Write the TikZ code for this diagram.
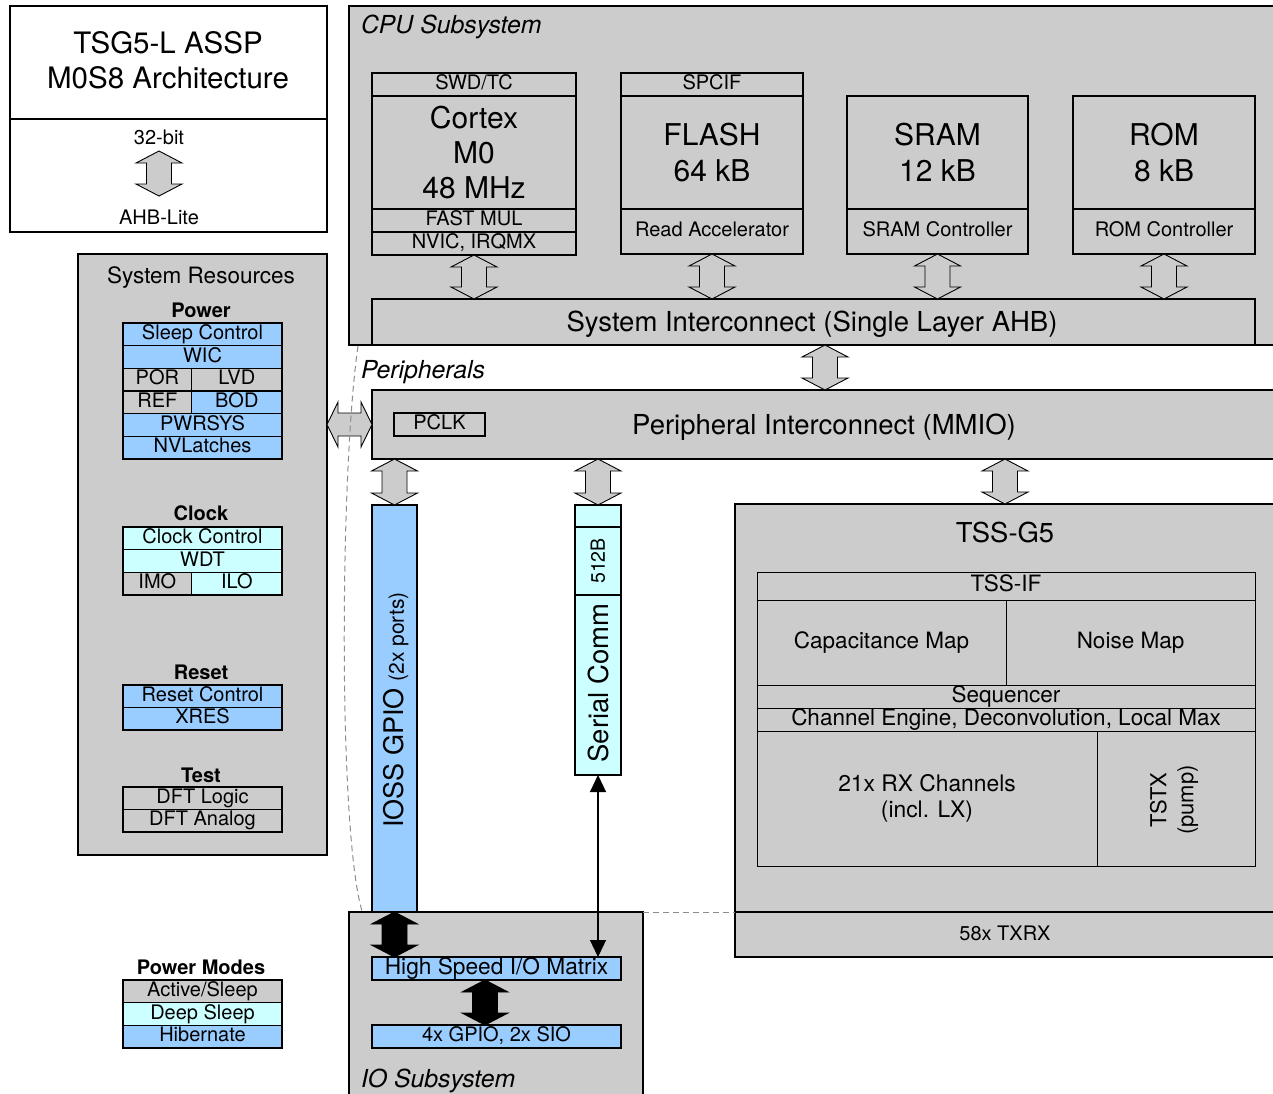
\documentclass[tikz,border=0pt]{standalone}
\usepackage{fontspec}
\setmainfont{TeX Gyre Heros}
\usetikzlibrary{calc,arrows.meta}
\definecolor{gr}{HTML}{CCCCCC}
\definecolor{bl}{HTML}{99CCFF}
\definecolor{cy}{HTML}{CCFFFF}
\newcommand\fs[2]{\fontsize{#1}{#2}\selectfont}
\newcommand\vbarrow[3]{%
 \path[draw=black,fill=#3,line width=0.9pt] let \p1=(#1), \p2=(#2) in
 (\x1,\y1) -- (\x1+23pt,\y1-12pt) -- (\x1+12.5pt,\y1-12pt) -- (\x1+12.5pt,\y2+12pt) -- (\x1+23pt,\y2+12pt) -- (\x1,\y2) -- (\x1-23pt,\y2+12pt) -- (\x1-12.5pt,\y2+12pt) -- (\x1-12.5pt,\y1-12pt) -- (\x1-23pt,\y1-12pt) -- cycle;}
\newcommand\hbarrow[3]{%
 \path[draw=black,fill=#3,line width=0.9pt] let \p1=(#1), \p2=(#2) in
 (\x1,\y1) -- (\x1+11pt,\y1+22.5pt) -- (\x1+11pt,\y1+11.5pt) -- (\x2-11pt,\y1+11.5pt) -- (\x2-11pt,\y1+22.5pt) -- (\x2,\y1) -- (\x2-11pt,\y1-22.5pt) -- (\x2-11pt,\y1-11.5pt) -- (\x1+11pt,\y1-11.5pt) -- (\x1+11pt,\y1-22.5pt) -- cycle;}
\begin{document}
\begin{tikzpicture}[x=1pt,y=-1pt,
 every node/.style={inner sep=0pt,outer sep=0pt},
 cbox/.style={draw,line width=1.8pt,fill=gr,anchor=north west,align=center},
 row/.style={draw,line width=1.2pt,anchor=north west,font=\fs{20}{24},text height=14.4pt,text depth=4pt},
 srow/.style={row,minimum width=159,minimum height=22.67},
 lrow/.style={row,minimum width=68.7,minimum height=22.67},
 rrow/.style={row,minimum width=90.3,minimum height=22.67},
 crow/.style={row,fill=gr,line width=1.8pt},
 trow/.style={row,fill=gr,line width=1pt,font=\fs{22.5}{27},text height=16.2pt,text depth=4.7pt},
 hdr/.style={font=\fs{20}{24}\bfseries},
 ital/.style={font=\fs{24.8}{28}\itshape,anchor=base west},
 dashln/.style={draw=black!45,line width=1pt,dash pattern=on 6pt off 4pt},
]
\useasboundingbox (0,0) rectangle (1273,1093);
\clip (0,0) rectangle (1273,1093);

% ---------- title box
\node[cbox,fill=white,minimum width=317,minimum height=113] (title) at (10,6) {};
\node[align=center,font=\fs{29.5}{35}] (titlelbl) at (168,60) {TSG5-L ASSP\\M0S8 Architecture};
\node[cbox,fill=white,minimum width=317,minimum height=113] (titlebot) at (10,119) {};
\node[font=\fs{20}{24}] (bit32) at (159,137) {32-bit};
\node[font=\fs{20}{24}] (ahblite) at (159,217) {AHB-Lite};
\coordinate (ta1) at (159,151);
\coordinate (ta2) at (159,196);
\vbarrow{ta1}{ta2}{gr}

% ---------- system resources
\node[cbox,minimum width=249,minimum height=601] (sysres) at (78,254) {};
\node[font=\fs{22.5}{27}] (srlbl) at (201,278) {System Resources};
\node[hdr] (powerh) at (201,310) {Power};
\node[srow,fill=bl] (sleep) at (123,323) {Sleep Control};
\node[srow,fill=bl] (wic) at (123,345.67) {WIC};
\node[lrow,fill=gr] (por) at (123,368.33) {POR};
\node[rrow,fill=gr] (lvd) at (191.7,368.33) {LVD};
\node[lrow,fill=gr] (ref) at (123,391) {REF};
\node[rrow,fill=bl] (bod) at (191.7,391) {BOD};
\node[srow,fill=bl] (pwrsys) at (123,413.67) {PWRSYS};
\node[srow,fill=bl] (nvl) at (123,436.33) {NVLatches};

\node[hdr] (clockh) at (201,513) {Clock};
\node[srow,fill=cy] (clkctl) at (123,527) {Clock Control};
\node[srow,fill=cy] (wdt) at (123,549.67) {WDT};
\node[lrow,fill=gr] (imo) at (123,572.33) {IMO};
\node[rrow,fill=cy] (ilo) at (191.7,572.33) {ILO};

\node[hdr] (reseth) at (201,672) {Reset};
\node[srow,fill=bl,minimum height=22.5] (rstctl) at (123,685) {Reset Control};
\node[srow,fill=bl,minimum height=22.5] (xres) at (123,707.5) {XRES};

\node[hdr] (testh) at (201,775) {Test};
\node[srow,fill=gr,minimum height=22.5] (dftl) at (123,787) {DFT Logic};
\node[srow,fill=gr,minimum height=22.5] (dfta) at (123,809.5) {DFT Analog};

% ---------- power modes legend
\node[hdr] (pmh) at (201,967) {Power Modes};
\node[srow,fill=gr] (pmact) at (123,980) {Active/Sleep};
\node[srow,fill=cy] (pmdeep) at (123,1002.67) {Deep Sleep};
\node[srow,fill=bl] (pmhib) at (123,1025.33) {Hibernate};

% ---------- CPU subsystem
\node[cbox,minimum width=960,minimum height=339] (cpu) at (349,6) {};
\node[ital] (cpulbl) at (361,33) {CPU Subsystem};

\node[crow,minimum width=204,minimum height=23] (swd) at (372,73) {SWD/TC};
\node[cbox,minimum width=204,minimum height=113,font=\fs{30}{35}] (cortex) at (372,96) {Cortex\\M0\\48 MHz};
\node[crow,minimum width=204,minimum height=23] (fastmul) at (372,209) {FAST MUL};
\node[crow,minimum width=204,minimum height=23] (nvic) at (372,232) {NVIC, IRQMX};

\node[crow,minimum width=182,minimum height=23] (spcif) at (621,73) {SPCIF};
\node[cbox,minimum width=182,minimum height=113,font=\fs{30}{36}] (flash) at (621,96) {FLASH\\64 kB};
\node[crow,minimum width=182,minimum height=45] (racc) at (621,209) {Read Accelerator};

\node[cbox,minimum width=181,minimum height=113,font=\fs{30}{36}] (sram) at (847,96) {SRAM\\12 kB};
\node[crow,minimum width=181,minimum height=45] (sramctl) at (847,209) {SRAM Controller};

\node[cbox,minimum width=182,minimum height=113,font=\fs{30}{36}] (rom) at (1073,96) {ROM\\8 kB};
\node[crow,minimum width=182,minimum height=45] (romctl) at (1073,209) {ROM Controller};

\node[cbox,minimum width=883,minimum height=46] (sysic) at (372,299) {};
\node[font=\fs{27.5}{32}] (sysiclbl) at (812,324.5) {System Interconnect (Single Layer AHB)};

\vbarrow{nvic.south}{nvic.south |- sysic.north}{gr}
\vbarrow{racc.south}{racc.south |- sysic.north}{gr}
\vbarrow{sramctl.south}{sramctl.south |- sysic.north}{gr}
\vbarrow{romctl.south}{romctl.south |- sysic.north}{gr}

% ---------- peripherals
\node[ital] (perlbl) at (361,378) {Peripherals};
\node[cbox,minimum width=940,minimum height=69] (periph) at (372,390) {};
\node[font=\fs{27.5}{32}] (periphlbl) at (824,427) {Peripheral Interconnect (MMIO)};
\node[row,fill=gr,minimum width=91,minimum height=23] (pclk) at (394,413) {PCLK};

\coordinate (icx) at (825,0);
\vbarrow{icx |- sysic.south}{icx |- periph.north}{gr}
\hbarrow{sysres.east |- periph.west}{periph.west}{gr}

% GPIO bar
\node[cbox,fill=bl,minimum width=45,minimum height=407] (gpio) at (372,505) {};
\node[rotate=90,font=\fs{27}{32}] (gpiolbl) at (396,710) {IOSS GPIO\hspace{7pt}{\fs{21}{24}(2x ports)}};
\vbarrow{gpio.north |- periph.south}{gpio.north}{gr}

% Serial comm
\node[cbox,fill=cy,minimum width=46,minimum height=22] (sertop) at (575,505) {};
\node[cbox,fill=cy,minimum width=46,minimum height=68] (ser512) at (575,527) {};
\node[cbox,fill=cy,minimum width=46,minimum height=180] (sermain) at (575,595) {};
\node[rotate=90,font=\fs{19.5}{23}] (ser512lbl) at (598,561) {512B};
\node[rotate=90,font=\fs{27.5}{32}] (serlbl) at (598,683) {Serial Comm};
\vbarrow{sertop.north |- periph.south}{sertop.north}{gr}

% TSS-G5
\node[cbox,minimum width=560,minimum height=408] (tss) at (735,504) {};
\node[font=\fs{27.4}{32}] (tsslbl) at (1005,533) {TSS-G5};
\node[cbox,minimum width=560,minimum height=45] (txrx) at (735,912) {};
\node[font=\fs{20}{24}] (txrxlbl) at (1005,933) {58x TXRX};
\coordinate (tssx) at (1005,0);
\vbarrow{tssx |- periph.south}{tssx |- tss.north}{gr}

\node[trow,minimum width=498,minimum height=28] (tssif) at (757,572) {TSS-IF};
\node[trow,minimum width=249,minimum height=85] (capmap) at (757,600) {Capacitance Map};
\node[trow,minimum width=249,minimum height=85] (noisemap) at (1006,600) {Noise Map};
\node[trow,minimum width=498,minimum height=23] (seq) at (757,685) {Sequencer};
\node[trow,minimum width=498,minimum height=23] (chan) at (757,708) {Channel Engine, Deconvolution, Local Max};
\node[draw,line width=1pt,fill=gr,anchor=north west,align=center,minimum width=340,minimum height=135,font=\fs{22.8}{26}] (rx) at (757,731) {21x RX Channels\\(incl. LX)};
\node[draw,line width=1pt,fill=gr,anchor=north west,minimum width=158,minimum height=135] (tstx) at (1097,731) {};
\node[rotate=90,align=center,font=\fs{22}{27}] (tstxlbl) at (1174,800) {TSTX\\(pump)};

% ---------- IO subsystem
\node[cbox,minimum width=294,minimum height=200] (io) at (349,912) {};
\node[ital] (iolbl) at (361,1087) {IO Subsystem};
\node[row,fill=bl,line width=1.8pt,minimum width=249,minimum height=23,font=\fs{22.7}{27},text height=16.3pt,text depth=4.8pt] (hsm) at (372,957) {High Speed I/O Matrix};
\node[row,fill=bl,line width=1.8pt,minimum width=249,minimum height=23] (gpio4) at (372,1025) {4x GPIO, 2x SIO};
\vbarrow{gpio.south}{gpio.south |- hsm.north}{black}
\coordinate (mx) at (485,0);
\vbarrow{mx |- hsm.south}{mx |- gpio4.north}{black}
\draw[{Triangle[length=17pt,width=16pt]}-{Triangle[length=17pt,width=16pt]},line width=1.2pt] (sermain.south) -- (sermain.south |- hsm.north);

% ---------- dashed peripheral boundary
\coordinate (dc1) at (358,346);
\coordinate (dc2) at (362,911);
\draw[dashln] (dc1) .. controls (340,470) and (338,830) .. (dc2);
\draw[dashln] (io.north east) -- (tss.south west);
\end{tikzpicture}
\end{document}
